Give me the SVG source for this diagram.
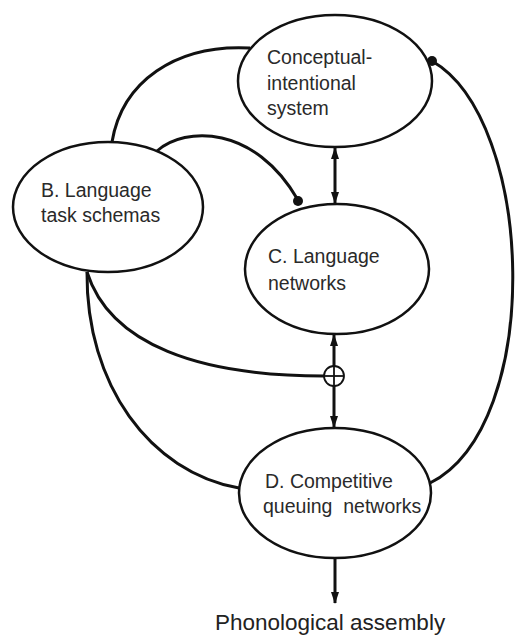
<svg xmlns="http://www.w3.org/2000/svg" width="515" height="637" viewBox="0 0 515 637">
<style>
.node ellipse{fill:#fff;stroke:#111;stroke-width:2.5}
.lbl{font-family:"Liberation Sans",Arial,sans-serif;font-size:19.5px;fill:#2a2a2a}
.conn path,.conn line{fill:none;stroke:#111;stroke-width:3}
.dot{fill:#111}
</style>
<defs>
<marker id="arr" markerUnits="userSpaceOnUse" markerWidth="12" markerHeight="14" refX="11" refY="6" orient="auto-start-reverse" viewBox="0 0 12 12">
<path d="M0,2 L12,6 L0,10 z" fill="#111"/>
</marker>
</defs>
<rect width="515" height="637" fill="#fff"/>
<g class="conn">
<path d="M250,48 C175,44 122,82 112,142"/>
<path d="M157,151 C185,126 255,125 298,200"/>
<path d="M430,483 C545,425 535,120 432,61"/>
<path d="M87,272 C110,345 200,376 324,376"/>
<path d="M87,272 C86,385 150,472 239,488"/>
<line x1="335" y1="148" x2="335" y2="203" marker-start="url(#arr)" marker-end="url(#arr)"/>
<line x1="334" y1="335" x2="334" y2="427" marker-start="url(#arr)" marker-end="url(#arr)"/>
<line x1="335" y1="559" x2="335" y2="603" marker-end="url(#arr)"/>
<circle class="dot" cx="298" cy="201" r="5"/>
<circle class="dot" cx="432" cy="61" r="5"/>
</g>
<g id="nodeA" class="node">
<ellipse cx="335" cy="81" rx="97" ry="66"/>
<text class="lbl" x="267" y="64">Conceptual-</text>
<text class="lbl" x="267" y="90">intentional</text>
<text class="lbl" x="267" y="115">system</text>
</g>
<g id="nodeB" class="node">
<ellipse cx="108" cy="207" rx="95" ry="65"/>
<text class="lbl" x="41" y="197">B. Language</text>
<text class="lbl" x="41" y="222">task schemas</text>
</g>
<g id="nodeC" class="node">
<ellipse cx="337" cy="269" rx="92" ry="65"/>
<text class="lbl" x="268" y="263">C. Language</text>
<text class="lbl" x="268" y="290">networks</text>
</g>
<g id="nodeD" class="node">
<ellipse cx="335" cy="493" rx="96" ry="65"/>
<text class="lbl" x="265" y="488">D. Competitive</text>
<text class="lbl" x="263" y="513" xml:space="preserve">queuing  networks</text>
</g>
<g id="junction" class="conn">
<circle cx="334" cy="376" r="10" fill="#fff" stroke="#111" stroke-width="1.8"/>
<line x1="324" y1="376" x2="344" y2="376" style="stroke-width:1.8"/>
<line x1="334" y1="366" x2="334" y2="386" style="stroke-width:1.8"/>
</g>
<g id="output">
<text class="lbl" x="215" y="630" style="font-size:22.5px;fill:#222">Phonological assembly</text>
</g>
</svg>
